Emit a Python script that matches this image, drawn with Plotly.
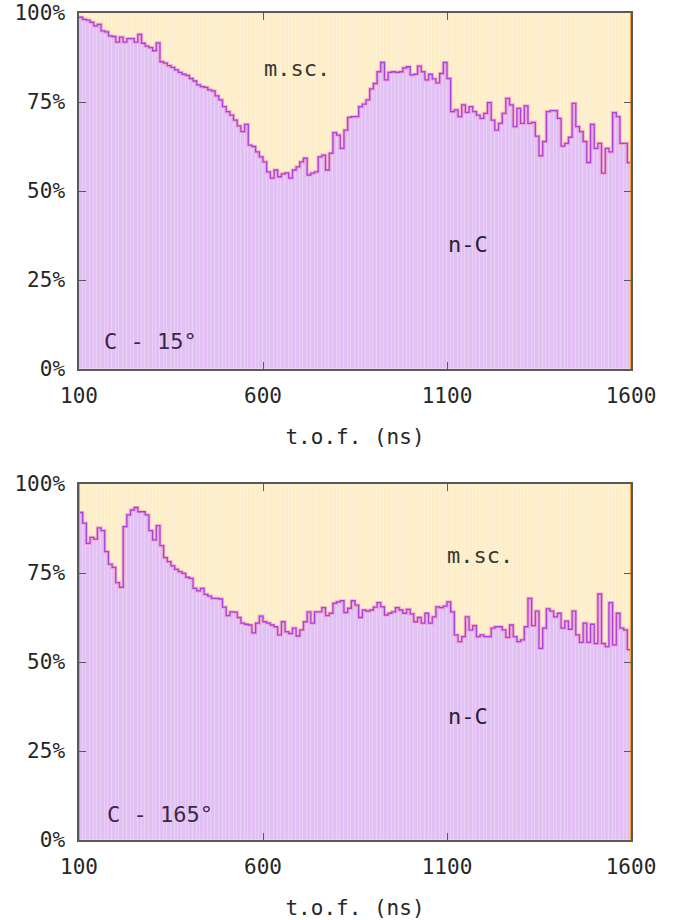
import plotly.graph_objects as go

# ---- data -------------------------------------------------------------
tof_left_edges = list(range(100, 1600, 10))   # 10 ns bins, 100..1600 ns
tof_last_edge = 1600

# n-C fraction (%) for C - 15 deg
nC_15 = [98.8, 98.2, 98.0, 97.4, 96.4, 96.8, 95.0, 94.7, 93.6, 93.4,
         91.8, 93.2, 91.8, 92.8, 92.8, 91.8, 94.0, 91.5, 90.7, 90.3,
         89.4, 91.6, 86.3, 85.9, 85.2, 84.7, 84.0, 83.3, 82.8, 82.5,
         81.6, 80.9, 79.8, 79.3, 79.1, 78.4, 78.1, 76.7, 75.6, 73.7,
         72.3, 71.3, 69.9, 68.3, 66.7, 68.7, 62.9, 62.5, 61.0, 59.6,
         58.2, 55.4, 53.6, 55.9, 54.0, 54.8, 55.1, 53.6, 55.9, 56.8,
         58.2, 59.2, 54.5, 55.0, 55.4, 59.6, 60.1, 55.9, 60.6, 66.4,
         65.7, 62.0, 67.1, 70.7, 70.9, 70.9, 73.7, 74.4, 75.6, 78.7,
         80.2, 83.5, 86.1, 81.2, 83.3, 83.5, 83.3, 83.5, 84.6, 84.9,
         82.6, 82.8, 85.1, 83.5, 81.2, 82.8, 81.5, 80.4, 83.0, 86.1,
         81.6, 72.3, 72.8, 70.9, 74.2, 72.1, 73.7, 72.3, 71.3, 70.4,
         71.8, 74.8, 69.9, 67.1, 69.0, 71.8, 76.0, 74.2, 68.1, 73.2,
         69.0, 73.9, 69.0, 69.3, 65.4, 59.9, 63.9, 72.3, 72.6, 72.6,
         70.4, 62.6, 63.4, 65.1, 74.6, 68.1, 66.7, 63.9, 58.0, 68.7,
         62.0, 63.4, 55.0, 62.0, 61.0, 72.0, 70.9, 63.4, 63.4, 58.0]

# n-C fraction (%) for C - 165 deg
nC_165 = [92.0, 89.0, 83.3, 85.0, 84.5, 87.7, 86.9, 81.0, 77.5, 76.6,
          72.3, 71.0, 88.0, 91.3, 92.7, 93.4, 92.2, 92.2, 91.3, 86.9,
          84.3, 88.3, 82.7, 79.3, 78.2, 77.0, 76.0, 75.4, 74.9, 73.8,
          73.5, 70.7, 70.0, 70.7, 69.0, 68.5, 67.9, 67.9, 67.7, 65.4,
          63.0, 64.1, 64.0, 62.5, 60.9, 60.6, 60.4, 58.2, 60.9, 62.9,
          61.3, 60.9, 60.4, 59.9, 57.6, 61.3, 58.5, 58.0, 59.5, 57.3,
          59.0, 61.3, 64.1, 60.9, 64.1, 64.1, 65.3, 63.0, 63.7, 66.5,
          66.9, 67.2, 63.9, 65.1, 67.2, 66.0, 62.5, 64.6, 64.3, 64.6,
          65.4, 66.7, 65.5, 63.2, 63.7, 64.1, 65.3, 64.6, 63.7, 64.8,
          63.5, 61.3, 62.5, 60.9, 63.7, 60.9, 62.7, 65.5, 65.3, 65.7,
          66.9, 64.1, 57.6, 55.7, 57.1, 62.7, 59.0, 60.2, 57.1, 57.6,
          57.1, 57.1, 59.5, 59.9, 59.9, 59.0, 56.9, 60.4, 57.1, 55.7,
          56.2, 59.9, 67.9, 60.2, 64.3, 53.8, 59.5, 64.9, 64.3, 62.7,
          63.7, 59.5, 61.5, 59.2, 64.3, 57.6, 55.5, 60.9, 55.5, 60.6,
          55.2, 69.1, 55.2, 54.3, 66.7, 54.8, 63.7, 59.5, 59.0, 53.5]

panels = [
    {"nC": nC_15, "label": "C - 15°", "msc_pos": (692, 84.5), "nc_pos": (1157, 35.0), "lab_pos": (293, 7.6)},
    {"nC": nC_165, "label": "C - 165°", "msc_pos": (1190, 80.0), "nc_pos": (1157, 34.8), "lab_pos": (320, 7.3)},
]
x_ticks = [100, 600, 1100, 1600]
y_ticks = [0, 25, 50, 75, 100]
y_ticktext = ["0%", "25%", "50%", "75%", "100%"]

# ---- style ------------------------------------------------------------
PURPLE = "rgb(226,192,243)"
YELLOW = "rgb(253,238,201)"
LINE = "rgb(172,62,226)"
HALO = "rgba(236,150,190,0.7)"
ORANGE = "rgb(244,160,50)"
FONT = "DejaVu Sans Mono"
TXT = "#262626"

fig = go.Figure()
domains = [[(840 - 369) / 827, 1.0], [0.0, (840 - 484) / 827]]
centers = [e + 5 for e in tof_left_edges]

for k, p in enumerate(panels):
    xa = "x" if k == 0 else "x2"
    ya = "y" if k == 0 else "y2"
    nC = p["nC"]
    msc = [100 - v for v in nC]
    fig.add_trace(go.Bar(x=centers, y=nC, width=10, xaxis=xa, yaxis=ya,
                         marker=dict(color=PURPLE, line=dict(color="rgba(242,222,250,0.45)", width=0.5)),
                         showlegend=False, hoverinfo="skip"))
    fig.add_trace(go.Bar(x=centers, y=msc, base=nC, width=10, xaxis=xa, yaxis=ya,
                         marker=dict(color=YELLOW, line=dict(color="rgba(255,246,224,0.5)", width=0.5)),
                         showlegend=False, hoverinfo="skip"))
    step_x = tof_left_edges + [tof_last_edge]
    step_y = nC + [nC[-1]]
    fig.add_trace(go.Scatter(x=step_x, y=step_y, mode="lines", line=dict(color=HALO, width=3.2, shape="hv"),
                             xaxis=xa, yaxis=ya, showlegend=False, hoverinfo="skip"))
    fig.add_trace(go.Scatter(x=step_x, y=step_y, mode="lines", line=dict(color=LINE, width=1.3, shape="hv"),
                             xaxis=xa, yaxis=ya, showlegend=False, hoverinfo="skip"))
    edge_xs = [tof_last_edge] if k == 0 else [tof_left_edges[0], tof_last_edge]
    for ex in edge_xs:
        fig.add_trace(go.Scatter(x=[ex, ex], y=[y_ticks[0], y_ticks[-1]], mode="lines",
                                 line=dict(color=ORANGE, width=2), xaxis=xa, yaxis=ya,
                                 showlegend=False, hoverinfo="skip"))
    for txt, pos, col in [("m.sc.", p["msc_pos"], "#3a3630"), ("n-C", p["nc_pos"], "#2a2230"),
                          (p["label"], p["lab_pos"], "#3b2848")]:
        fig.add_annotation(x=pos[0], y=pos[1], xref=xa, yref=ya, text=txt, showarrow=False,
                           font=dict(family=FONT, size=22, color=col))

axis_common = dict(showline=True, linecolor="#5a5a5a", linewidth=1.5, mirror="ticks",
                   ticks="inside", ticklen=7, tickcolor="#5a5a5a", tickwidth=1.2,
                   showgrid=False, zeroline=False, automargin=False,
                   tickfont=dict(family=FONT, size=21, color=TXT))

layout = dict(width=689, height=920, margin=dict(l=79, r=58, t=13, b=80),
              paper_bgcolor="white", plot_bgcolor="white", barmode="overlay", bargap=0,
              font=dict(family=FONT, color=TXT))
for k in range(2):
    sx = "" if k == 0 else "2"
    layout["xaxis" + sx] = dict(axis_common, range=[tof_left_edges[0], tof_last_edge], tickvals=x_ticks,
                                anchor="y" + sx, domain=[0, 1], ticklabelstandoff=7,
                                title=dict(text="t.o.f. (ns)", standoff=22,
                                           font=dict(family=FONT, size=21, color=TXT)))
    layout["yaxis" + sx] = dict(axis_common, range=[0, 100], tickvals=y_ticks, ticktext=y_ticktext,
                                anchor="x" + sx, domain=domains[k], ticklabelstandoff=8)
fig.update_layout(**layout)
fig.write_html("out.html")
